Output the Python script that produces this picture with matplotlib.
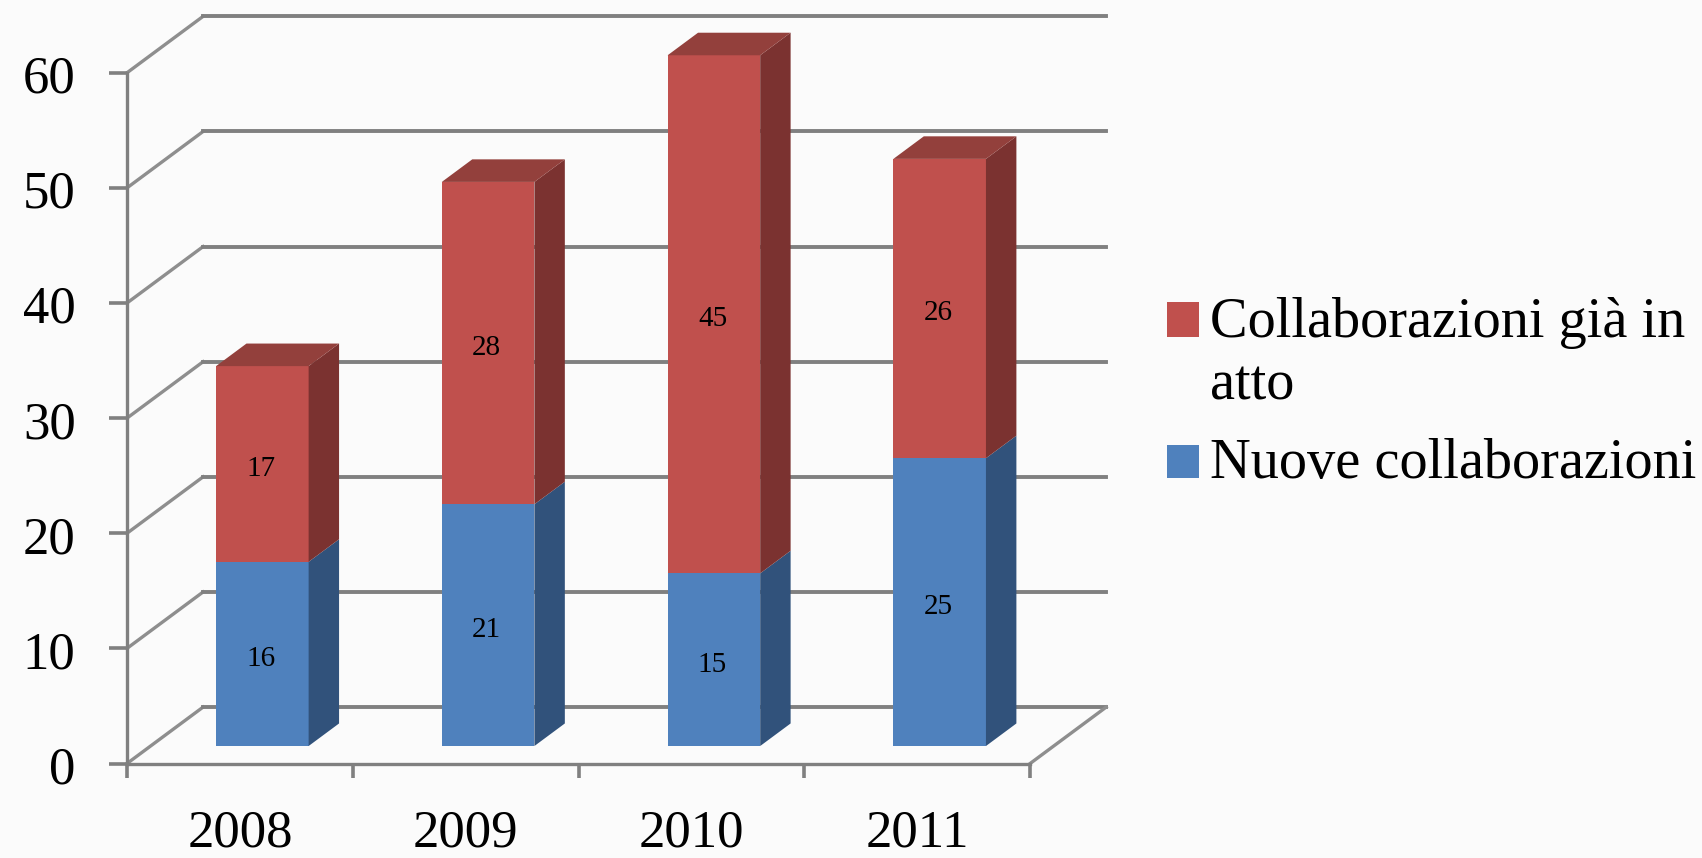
import matplotlib
matplotlib.use('Agg')
import matplotlib.pyplot as plt
from matplotlib.patches import Polygon, Rectangle
from matplotlib.transforms import ScaledTranslation

# dati
anni = ['2008', '2009', '2010', '2011']
nuove = [16, 21, 15, 25]
gia_in_atto = [17, 28, 45, 26]
y_ticks = [0, 10, 20, 30, 40, 50, 60]
legend_labels = ['Collaborazioni già in\natto', 'Nuove collaborazioni']

GRID = '#808080'
BLUE, BLUE_SIDE = '#4F81BD', '#31527B'
RED, RED_SIDE, RED_TOP = '#C0504D', '#7B3230', '#93403C'
BG = '#FBFBFB'

# profondita' finta del 3D, in unita' dei dati
DEPTH_X = 0.337
DEPTH_Y = 4.9
BAR_W = 0.41
BAR_FRONT = 0.31
BAR_BACK = 0.71

plt.rcParams['font.family'] = ['Liberation Serif', 'DejaVu Serif']

W, H = 1568.0, 790.0
fig = plt.figure(figsize=(17.02, 8.58), dpi=100, facecolor=BG)
ax = fig.add_axes([117 / W, 1 - 703 / H, (949 - 117) / W, (703 - 67) / H])
ax.patch.set_alpha(0)
ax.set_xlim(0, 4)
ax.set_ylim(0, 60)


def proj(x, y, d):
    return (x + d * DEPTH_X, y + d * DEPTH_Y)


# pareti: linee di griglia sul fondo e diagonali sul lato
for v in y_ticks:
    a = proj(0, v, 0)
    b = proj(0, v, 1)
    c = proj(4, v, 1)
    ax.plot([a[0], b[0]], [a[1], b[1]], color='#8E8E8E', lw=2.4, clip_on=False, zorder=1)
    ax.plot([b[0], c[0]], [b[1], c[1]], color=GRID, lw=2.8, clip_on=False, zorder=1)
a = proj(4, 0, 0)
b = proj(4, 0, 1)
ax.plot([a[0], b[0]], [a[1], b[1]], color='#8E8E8E', lw=2.4, clip_on=False, zorder=1)


def box(x_left, y0, y1, front, side, top=None):
    # faccia frontale con bar, fianco e tetto con poligoni
    x_right = x_left + BAR_W
    ax.bar(x_left, y1 - y0, width=BAR_W, bottom=y0, align='edge', color=front,
           clip_on=False, zorder=3)
    dd = BAR_BACK - BAR_FRONT
    pts = [(x_right, y0), (x_right + dd * DEPTH_X, y0 + dd * DEPTH_Y),
           (x_right + dd * DEPTH_X, y1 + dd * DEPTH_Y), (x_right, y1)]
    ax.add_patch(Polygon(pts, closed=True, color=side, lw=0, clip_on=False, zorder=3))
    if top is not None:
        pts = [(x_left, y1), (x_left + dd * DEPTH_X, y1 + dd * DEPTH_Y),
               (x_right + dd * DEPTH_X, y1 + dd * DEPTH_Y), (x_right, y1)]
        ax.add_patch(Polygon(pts, closed=True, color=top, lw=0, clip_on=False, zorder=3))


def etichetta(x, y, val):
    ax.annotate(str(val), (x, y), xytext=(-1, -3.5), textcoords='offset points', ha='center',
                va='center', fontsize=21, color='black', zorder=4)


for i in range(len(anni)):
    x0, base = proj(i + 0.5 - BAR_W / 2, 0, BAR_FRONT)
    x0 -= 0.005
    xc = x0 + BAR_W / 2
    box(x0, base, base + nuove[i], BLUE, BLUE_SIDE)
    box(x0, base + nuove[i], base + nuove[i] + gia_in_atto[i], RED, RED_SIDE, RED_TOP)
    etichetta(xc, base + nuove[i] / 2, nuove[i])
    etichetta(xc, base + nuove[i] + gia_in_atto[i] / 2, gia_in_atto[i])

# assi
for s in ['top', 'right']:
    ax.spines[s].set_visible(False)
for s in ['left', 'bottom']:
    ax.spines[s].set_color(GRID)
    ax.spines[s].set_linewidth(2.4)
ax.set_yticks(y_ticks)
ax.set_yticklabels([str(v) for v in y_ticks], fontsize=38, va='center')
ax.tick_params(axis='y', length=13, width=2.6, color=GRID, pad=24)
offset = ScaledTranslation(0, -5 / 72, fig.dpi_scale_trans)
for lab in ax.get_yticklabels():
    lab.set_transform(lab.get_transform() + offset)
ax.set_xticks(range(5))
ax.set_xticklabels([''] * 5)
ax.tick_params(axis='x', length=10, width=2.6, color=GRID)
ax.set_xticks([0.5, 1.5, 2.5, 3.5], minor=True)
ax.set_xticklabels(anni, minor=True, fontsize=38)
ax.tick_params(axis='x', which='minor', length=0, pad=33)

# legenda a mano: il quadrato sta sulla prima riga del testo
fig.add_artist(Rectangle((1075 / W, 1 - 310 / H), 30 / W, 32 / H, transform=fig.transFigure,
                         color=RED, lw=0))
fig.add_artist(Rectangle((1075 / W, 1 - 440 / H), 30 / W, 30 / H, transform=fig.transFigure,
                         color=BLUE, lw=0))
fig.text(1115 / W, 1 - 310 / H, legend_labels[0].split('\n')[0], fontsize=40.6, va='baseline')
fig.text(1115 / W, 1 - 368 / H, legend_labels[0].split('\n')[1], fontsize=40.6, va='baseline')
fig.text(1115 / W, 1 - 440 / H, legend_labels[1], fontsize=40.6, va='baseline')

fig.savefig('out.png', dpi=100, facecolor=BG)
